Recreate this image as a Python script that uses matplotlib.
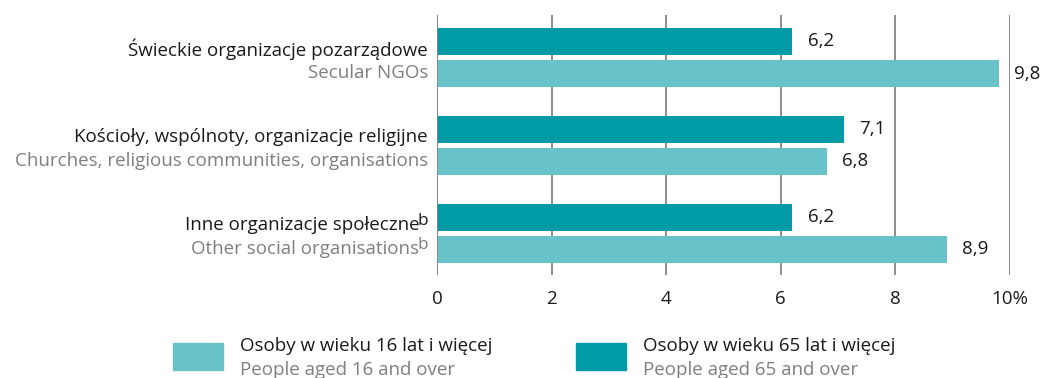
import matplotlib
matplotlib.use("Agg")
import matplotlib.pyplot as plt
from matplotlib.patches import Rectangle
from matplotlib.transforms import offset_copy
import numpy as np

# Data
labels_pl = ["Świeckie organizacje pozarządowe",
             "Kościoły, wspólnoty, organizacje religijne",
             "Inne organizacje społeczne"]
labels_en = ["Secular NGOs",
             "Churches, religious communities, organisations",
             "Other social organisations"]
footnote = ["", "", "b"]
aged_65 = [6.2, 7.1, 6.2]
aged_16 = [9.8, 6.8, 8.9]
ticks = [0, 2, 4, 6, 8, 10]
tick_labels = ["0", "2", "4", "6", "8", "10%"]

legend_pl = ["Osoby w wieku 16 lat i więcej", "Osoby w wieku 65 lat i więcej"]
legend_en = ["People aged 16 and over", "People aged 65 and over"]

C_DARK = "#009ba6"
C_LIGHT = "#67c3c9"
C_TEXT = "#1a1a1a"
C_GREY = "#7f7f7f"
C_GRID = "#858585"

plt.rcParams["font.family"] = ["Open Sans", "DejaVu Sans"]
FS = 13.5

W, H = 1040, 378
fig = plt.figure(figsize=(W / 100, H / 100), dpi=100)
ax = fig.add_axes([437 / W, 1 - 275 / H, (1010 - 437) / W, (275 - 15) / H])

y = np.arange(len(labels_pl))
off = 0.182
bh = 0.307
ax.barh(y - off, aged_65, height=bh, color=C_DARK, zorder=3)
ax.barh(y + off, aged_16, height=bh, color=C_LIGHT, zorder=3)

ax.set_xlim(0, 10)
ax.set_ylim(2.472, -0.483)

for s in ax.spines.values():
    s.set_visible(False)
ax.set_xticks(ticks)
ax.set_xticklabels(tick_labels, fontsize=FS, color=C_TEXT)
ax.tick_params(axis="x", length=0, pad=11)
ax.set_yticks([])
ax.xaxis.grid(True, color=C_GRID, linewidth=1.3, zorder=0)
ax.axvline(0, color=C_GRID, linewidth=1.3, zorder=4)

# value labels
for yi, v in zip(y - off, aged_65):
    ax.annotate(f"{v:.1f}".replace(".", ","), (v, yi), xytext=(11, 0),
                textcoords="offset points", va="center", ha="left",
                fontsize=FS, color=C_TEXT)
for yi, v in zip(y + off, aged_16):
    ax.annotate(f"{v:.1f}".replace(".", ","), (v, yi), xytext=(11, 0),
                textcoords="offset points", va="center", ha="left",
                fontsize=FS, color=C_TEXT)

# category labels (Polish + English), with optional superscript note
renderer = fig.canvas.get_renderer()
trans = ax.get_yaxis_transform()
for i in range(len(labels_pl)):
    for text, dy, col in ((labels_pl[i], -8, C_TEXT), (labels_en[i], 15.5, C_GREY)):
        xshift = 0
        if footnote[i]:
            fn = ax.text(0, y[i], footnote[i], transform=offset_copy(
                trans, fig=fig, x=-9, y=-dy + 4, units="dots"),
                ha="right", va="center", fontsize=FS * 0.92, color=col)
            xshift = fn.get_window_extent(renderer).width - 2
        ax.text(0, y[i], text,
                transform=offset_copy(trans, fig=fig, x=-9 - xshift, y=-dy, units="dots"),
                ha="right", va="center", fontsize=FS, color=col)

# legend
items = [(173, C_LIGHT, 0), (576, C_DARK, 1)]
for x0, col, k in items:
    fig.patches.append(Rectangle((x0 / W, 1 - 370 / H), 50 / W, 27 / H,
                                 transform=fig.transFigure, color=col))
    fig.text((x0 + 67) / W, 1 - 346 / H, legend_pl[k], ha="left", va="center",
             fontsize=FS, color=C_TEXT)
    fig.text((x0 + 67) / W, 1 - 370 / H, legend_en[k], ha="left", va="center",
             fontsize=FS, color=C_GREY)

fig.savefig("out.png", dpi=100)
